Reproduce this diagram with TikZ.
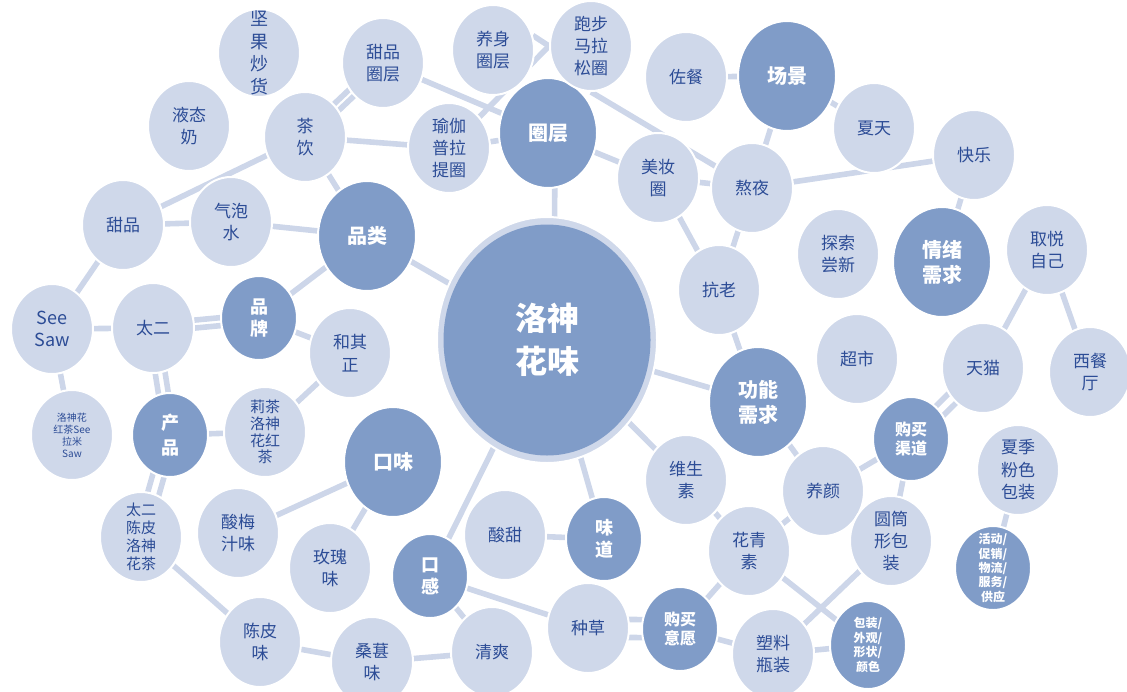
\documentclass[tikz,border=0pt]{standalone}
\usepackage{fontspec}
\setmainfont{Noto Sans CJK SC}
\usetikzlibrary{shapes.geometric}
\pgfdeclarelayer{bg}
\pgfsetlayers{bg,main}
\definecolor{lfill}{HTML}{CFD8EA}
\definecolor{dfill}{HTML}{809CC8}
\definecolor{ltext}{HTML}{2C4C96}
\definecolor{lconn}{HTML}{CDD6E9}
\begin{document}
\begin{tikzpicture}[x=0.5pt,y=-0.5pt,
  base/.style={ellipse, draw=white, line width=1pt, inner sep=-9pt, align=center},
  lnode/.style={base, fill=lfill, text=ltext, minimum width=41pt, minimum height=45pt, font=\fontsize{8.5pt}{11.2pt}\selectfont},
  dbig/.style={base, fill=dfill, text=white, minimum width=49pt, minimum height=55pt, font=\bfseries\fontsize{10pt}{12.5pt}\selectfont},
  dsmall/.style={base, fill=dfill, text=white, minimum width=38pt, minimum height=42pt, font=\bfseries\fontsize{9pt}{11pt}\selectfont},
  conn/.style={draw=lconn, line width=2.8pt}]
\useasboundingbox (0,0) rectangle (1127,691);

% central hub
\node[ellipse, fill=lfill, draw=white, line width=1pt, minimum width=110pt, minimum height=123pt, inner sep=0pt] (hub) at (547,340) {};
\node[ellipse, fill=dfill, minimum width=103.5pt, minimum height=115.5pt, inner sep=-12pt, text=white, align=center, font=\bfseries\fontsize{16pt}{21.5pt}\selectfont] (hubin) at (547,340) {洛神\\花味};

% dark nodes
\node[dbig] (quanceng) at (548,133) {圈层};
\node[dbig] (changjing) at (787,76) {场景};
\node[dbig] (pinlei) at (367,236) {品类};
\node[dbig] (kouwei) at (393,462) {口味};
\node[dbig] (gongneng) at (758,402) {功能\\需求};
\node[dbig] (qingxu) at (942,262) {情绪\\需求};
\node[dsmall] (pinpai) at (259,318) {品\\牌};
\node[dsmall, font=\bfseries\fontsize{9pt}{12.5pt}\selectfont] (chanpin) at (170,435) {产\\品};
\node[dsmall] (kougan) at (430,576) {口\\感};
\node[dsmall] (weidao) at (604,539) {味\\道};
\node[dsmall, font=\bfseries\fontsize{8pt}{9.5pt}\selectfont] (qudao) at (911,439) {购买\\渠道};
\node[dsmall, font=\bfseries\fontsize{8pt}{9.5pt}\selectfont] (yiyuan) at (680,629) {购买\\意愿};
\node[dsmall, minimum height=44pt, font=\bfseries\fontsize{6pt}{7.3pt}\selectfont] (baozhuang) at (868,645) {包装/\\外观/\\形状/\\颜色};
\node[dsmall, font=\bfseries\fontsize{6pt}{7.2pt}\selectfont] (huodong) at (993,568) {活动/\\促销/\\物流/\\服务/\\供应};

% light nodes
\node[lnode, minimum height=44pt, font=\fontsize{9pt}{11.3pt}\selectfont] (jianguo) at (259,53) {坚\\果\\炒\\货};
\node[lnode] (tianpinq) at (383,63) {甜品\\圈层};
\node[lnode] (yangshen) at (493,50) {养身\\圈层};
\node[lnode] (paobu) at (591,46) {跑步\\马拉\\松圈};
\node[lnode] (zuocan) at (686,77) {佐餐};
\node[lnode] (xiatian) at (874,128) {夏天};
\node[lnode] (kuaile) at (974,155) {快乐};
\node[lnode] (meizhuang) at (658,178) {美妆\\圈};
\node[lnode] (aoye) at (752,188) {熬夜};
\node[lnode] (yujia) at (449,148) {瑜伽\\普拉\\提圈};
\node[lnode] (chayin) at (305,137) {茶\\饮};
\node[lnode] (yetai) at (189,126) {液态\\奶};
\node[lnode] (tianpin) at (123,225) {甜品};
\node[lnode] (qipao) at (231,222) {气泡\\水};
\node[lnode, font=\fontsize{9pt}{11pt}\selectfont] (seesaw) at (52,329) {See\\Saw};
\node[lnode] (taier) at (153,328) {太二};
\node[lnode, font=\fontsize{5pt}{6pt}\selectfont] (lshcs) at (72,435) {洛神花\\红茶See\\拉米\\Saw};
\node[lnode, font=\fontsize{7.5pt}{8.4pt}\selectfont] (molicha) at (265,432) {莉茶\\洛神\\花红\\茶};
\node[lnode] (heqizheng) at (350,353) {和其\\正};
\node[lnode, font=\fontsize{7.5pt}{8.9pt}\selectfont] (tecpi) at (141,537) {太二\\陈皮\\洛神\\花茶};
\node[lnode] (suanmei) at (238,533) {酸梅\\汁味};
\node[lnode] (meigui) at (330,568) {玫瑰\\味};
\node[lnode] (chenpi) at (260,642) {陈皮\\味};
\node[lnode] (sangshen) at (372,662) {桑葚\\味};
\node[lnode] (qingshuang) at (492,652) {清爽};
\node[lnode] (suantian) at (505,535) {酸甜};
\node[lnode] (zhongcao) at (588,628) {种草};
\node[lnode] (weisheng) at (686,480) {维生\\素};
\node[lnode] (huaqing) at (749,551) {花青\\素};
\node[lnode] (yangyan) at (823,491) {养颜};
\node[lnode] (yuantong) at (891,541) {圆筒\\形包\\装};
\node[lnode] (suliao) at (773,654) {塑料\\瓶装};
\node[lnode] (xiaji) at (1018,470) {夏季\\粉色\\包装};
\node[lnode] (kanglao) at (719,290) {抗老};
\node[lnode] (tansuo) at (838,254) {探索\\尝新};
\node[lnode] (quyue) at (1047,250) {取悦\\自己};
\node[lnode] (chaoshi) at (857,359) {超市};
\node[lnode] (tianmao) at (983,368) {天猫};
\node[lnode] (xican) at (1090,372) {西餐\\厅};

\begin{pgfonlayer}{bg}
% top cluster
\draw[conn] ([xshift=1.4pt,yshift=-1.4pt]chayin.center) -- ([xshift=1.4pt,yshift=-1.4pt]tianpinq.center);
\draw[conn] ([xshift=-1.4pt,yshift=1.4pt]chayin.center) -- ([xshift=-1.4pt,yshift=1.4pt]tianpinq.center);
\draw[conn] (tianpinq.center) -- (quanceng.center);
\draw[conn] (yujia.center) -- (paobu.west);
\draw[conn] (yangshen.20) -- (paobu.west);
\draw[conn] (chayin.center) -- (yujia.center);
\draw[conn] (chayin.center) -- (pinlei.center);
\draw[conn] (chayin.center) -- (tianpin.center);
\draw[conn] (yujia.center) -- (quanceng.center);
\draw[conn] (quanceng.center) -- (meizhuang.center);
\draw[conn] (paobu.south) -- (aoye.center);
\draw[conn] (zuocan.center) -- (changjing.center);
\draw[conn] (changjing.center) -- (aoye.center);
\draw[conn] (changjing.center) -- (xiatian.center);
\draw[conn] (aoye.center) -- (kuaile.center);
\draw[conn] (meizhuang.center) -- (aoye.center);
\draw[conn] (meizhuang.center) -- (kanglao.center);
\draw[conn] (aoye.center) -- (kanglao.center);
\draw[conn] (kanglao.center) -- (gongneng.center);
\draw[conn] (kuaile.center) -- (qingxu.center);
% right cluster
\draw[conn] (quyue.center) -- (tianmao.center);
\draw[conn] (quyue.center) -- (xican.center);
\draw[conn] ([xshift=2.1pt,yshift=-2.1pt]tianmao.center) -- ([xshift=2.1pt,yshift=-2.1pt]qudao.center);
\draw[conn] ([xshift=-2.1pt,yshift=2.1pt]tianmao.center) -- ([xshift=-2.1pt,yshift=2.1pt]qudao.center);
\draw[conn] (gongneng.center) -- (hub.center);
\draw[conn] (gongneng.center) -- (yangyan.center);
\draw[conn] (qudao.center) -- (yangyan.center);
\draw[conn] (qudao.center) -- (yuantong.center);
\draw[conn] (xiaji.center) -- (huodong.center);
% bottom right
\draw[conn] (hub.center) -- (weisheng.center);
\draw[conn] (weisheng.center) -- (huaqing.center);
\draw[conn] (yangyan.center) -- (huaqing.center);
\draw[conn] (huaqing.center) -- (baozhuang.center);
\draw[conn] (yuantong.center) -- (suliao.center);
\draw[conn] (huaqing.center) -- (yiyuan.center);
\draw[conn] (yiyuan.center) -- (suliao.center);
\draw[conn] (suliao.center) -- (baozhuang.center);
\draw[conn] ([yshift=4.5pt]zhongcao.center) -- ([yshift=4.5pt]yiyuan.center);
\draw[conn] ([yshift=-4.5pt]zhongcao.center) -- ([yshift=-4.5pt]yiyuan.center);
\draw[conn] (weidao.center) -- (suantian.center);
\draw[conn] (hub.center) -- (weidao.center);
% bottom left
\draw[conn] (kougan.center) -- (zhongcao.center);
\draw[conn] (hub.center) -- (kougan.center);
\draw[conn] (kougan.center) -- (qingshuang.center);
\draw[conn] (kouwei.center) -- (meigui.center);
\draw[conn] (kouwei.center) -- (suanmei.center);
\draw[conn] (tecpi.center) -- (chenpi.center);
\draw[conn] (chenpi.center) -- (sangshen.center);
\draw[conn] (sangshen.center) -- (qingshuang.center);
\draw[conn] ([xshift=-3pt]chanpin.center) -- ([xshift=-3pt]tecpi.center);
\draw[conn] ([xshift=3pt]chanpin.center) -- ([xshift=3pt]tecpi.center);
\draw[conn] (chanpin.center) -- (molicha.center);
\draw[conn] ([xshift=-2.5pt]chanpin.center) -- ([xshift=-2.5pt]taier.center);
\draw[conn] ([xshift=2.5pt]chanpin.center) -- ([xshift=2.5pt]taier.center);
% left cluster
\draw[conn] (taier.center) -- (seesaw.center);
\draw[conn] (seesaw.center) -- (lshcs.center);
\draw[conn] ([yshift=2pt]taier.center) -- ([yshift=2pt]pinpai.center);
\draw[conn] ([yshift=-2pt]taier.center) -- ([yshift=-2pt]pinpai.center);
\draw[conn] (pinpai.center) -- (heqizheng.center);
\draw[conn] (molicha.center) -- (heqizheng.center);
\draw[conn] (pinpai.center) -- (pinlei.center);
\draw[conn] (pinlei.center) -- (qipao.center);
\draw[conn] (qipao.center) -- (tianpin.center);
\draw[conn] (tianpin.center) -- (seesaw.center);
\draw[conn] (pinlei.center) -- (hub.center);
\draw[conn] ([xshift=3.5pt]quanceng.center) -- ([xshift=3.5pt]hub.center);
\end{pgfonlayer}
\end{tikzpicture}
\end{document}
